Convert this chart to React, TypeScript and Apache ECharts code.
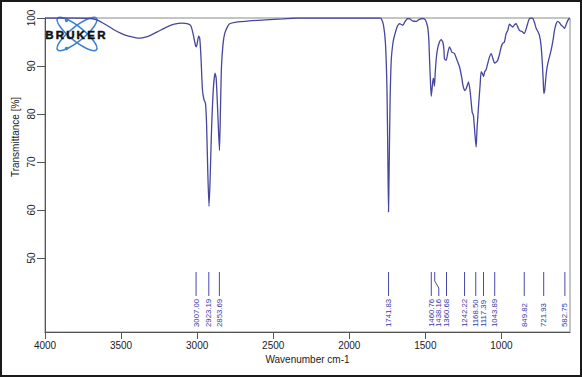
import React, { useEffect, useRef } from "react";
import * as echarts from "echarts";

const wavenumbers = [
  4000, 3800, 3700, 3660, 3600, 3550, 3500, 3450, 3400, 3377, 3340, 3300, 3250, 3200, 3150, 3100,
  3060, 3040, 3025, 3010, 3005, 2998, 2990, 2983, 2975, 2965, 2955, 2945, 2938, 2930, 2922, 2915,
  2905, 2893, 2882, 2875, 2868, 2860, 2853, 2846, 2840, 2830, 2819, 2800, 2786, 2750, 2655, 2550,
  2438, 2350, 2000, 1800, 1790, 1775, 1762, 1752, 1746, 1742, 1738, 1732, 1724, 1712, 1702, 1685,
  1669, 1660, 1647, 1635, 1615, 1600, 1585, 1560, 1540, 1516, 1500, 1490, 1483, 1477, 1472, 1466,
  1461, 1455, 1450, 1446, 1440, 1435, 1429, 1420, 1407, 1396, 1385, 1378, 1374, 1363, 1352, 1341,
  1333, 1326, 1308, 1295, 1275, 1260, 1253, 1242, 1231, 1216, 1205, 1192, 1184, 1178, 1172, 1166,
  1160, 1149, 1140, 1133, 1122, 1117, 1110, 1100, 1090, 1078, 1067, 1055, 1045, 1035, 1024, 1012,
  1001, 991, 980, 969, 958, 947, 936, 925, 914, 903, 892, 881, 865, 849, 835, 822,
  815, 800, 793, 782, 771, 760, 750, 740, 732, 725, 721, 715, 705, 695, 673, 660,
  651, 640, 629, 618, 607, 595, 585, 575, 563, 552,
];

const transmittance = [
  100, 100, 99.9, 99.6, 98.6, 97.6, 96.8, 96.2, 95.85, 95.8, 96.0, 96.5, 97.3, 98.1, 98.7, 98.95,
  98.8, 98.3, 96.5, 94.2, 94.0, 95.0, 96.2, 95.8, 92, 85, 83, 82.2, 78, 68, 60.8, 66,
  77, 85.5, 88.5, 87.5, 83, 77, 72.4, 82, 89.8, 94.5, 96.75, 98.2, 98.8, 99.1, 99.4, 99.6,
  99.8, 100, 100, 100, 99.9, 98.5, 94.7, 85, 70, 59.6, 68, 82, 91.2, 95, 96.4, 98.2,
  98.8, 98.7, 98.5, 99.2, 99.9, 99.8, 99.4, 99.3, 99.7, 99.9, 99.6, 98.8, 97.8, 95.5, 91.2, 86.5,
  83.7, 85.5, 87.0, 87.4, 85.8, 88.5, 91.2, 93.5, 95.0, 95.5, 95.0, 93.5, 91.5, 91.2, 92.8, 94.0,
  93.5, 92.9, 92.6, 91.5, 89.8, 87.5, 86.0, 84.9, 85.3, 86.7, 84.6, 80.4, 79.7, 77.5, 75, 73.1,
  77, 82.2, 86, 88.8, 88.2, 87.8, 88.8, 89.3, 90.5, 91.9, 92.6, 91.5, 90.6, 90.8, 91.2, 92.5,
  94.0, 94.7, 95.0, 96.75, 97.4, 98.7, 98.4, 98.1, 98.6, 98.8, 98.1, 97.4, 97.2, 96.75, 98.0, 99.4,
  99.9, 100, 99.9, 99.0, 97.8, 97.2, 96.4, 94.5, 91.2, 87, 84.3, 85, 88.5, 90.5, 93.3, 95.5,
  97.4, 98.8, 99.3, 99.0, 98.5, 98.2, 97.8, 98.6, 99.5, 100,
];

const peakWavenumbers = [
  3007.0, 2923.19, 2853.69, 1741.83, 1460.76, 1438.16, 1360.68, 1242.22, 1168.5, 1117.39, 1043.89,
  849.82, 721.93, 582.75,
];

const xTickValues = [4000, 3500, 3000, 2500, 2000, 1500, 1000];
const yTickValues = [50, 60, 70, 80, 90, 100];
const logoLetters = ["B", "R", "U", "K", "E", "R"];

const FONT = "'Liberation Sans', Arial, Helvetica, sans-serif";
const LINE_COLOR = "#46469e";
const PEAK_COLOR = "#4848aa";
const LOGO_BLUE = "#3b82d0";

export default function App() {
  const ref = useRef<HTMLDivElement>(null);

  useEffect(() => {
    if (!ref.current) return;
    const chart = echarts.init(ref.current, null, { renderer: "svg" });

    const spectrum = wavenumbers.map((w, i) => [w, transmittance[i]]);
    const peaks = peakWavenumbers.map((w) => [w]);

    const renderPeak = (params: any, api: any) => {
      const idx = params.dataIndex;
      const xs = peakWavenumbers.map((w) => api.coord([w, 100])[0]);
      const minGap = 7.5;
      const labelXs: number[] = [];
      xs.forEach((x, i) => {
        let lx = x;
        if (i > 0 && lx - labelXs[i - 1] < minGap) lx = labelXs[i - 1] + minGap;
        labelXs.push(lx);
      });
      const w = peakWavenumbers[idx];
      const x = xs[idx];
      const lx = labelXs[idx];
      const bottom = api.coord([w, 34.6])[1];
      const top = bottom - 60;
      const lineBottom = bottom - 36;
      const pts =
        Math.abs(lx - x) < 0.5
          ? [
              [x, top],
              [x, lineBottom],
            ]
          : [
              [x, top],
              [x, top + 9],
              [lx, top + 16],
              [lx, lineBottom],
            ];
      return {
        type: "group",
        children: [
          {
            type: "polyline",
            shape: { points: pts },
            style: { stroke: PEAK_COLOR, lineWidth: 1, fill: "none" },
          },
          {
            type: "text",
            x: lx,
            y: bottom - 5,
            rotation: Math.PI / 2,
            style: {
              text: w.toFixed(2),
              fontSize: 7.8,
              fontFamily: FONT,
              fill: "#3535a4",
              align: "left",
              verticalAlign: "middle",
            },
          },
        ],
      };
    };

    const logoChildren: any[] = [
      {
        type: "ellipse",
        x: 77,
        y: 34,
        rotation: 0.68,
        shape: { cx: 0, cy: 0, rx: 25, ry: 7 },
        style: { stroke: LOGO_BLUE, lineWidth: 1.5, fill: "none" },
      },
      {
        type: "ellipse",
        x: 77,
        y: 34,
        rotation: -0.68,
        shape: { cx: 0, cy: 0, rx: 25, ry: 7 },
        style: { stroke: LOGO_BLUE, lineWidth: 1.5, fill: "none" },
      },
      {
        type: "circle",
        shape: { cx: 66.5, cy: 20.5, r: 1.7 },
        style: { fill: LOGO_BLUE },
      },
      {
        type: "circle",
        shape: { cx: 66.5, cy: 48.5, r: 1.7 },
        style: { fill: LOGO_BLUE },
      },
    ];
    logoLetters.forEach((ch, i) => {
      logoChildren.push({
        type: "text",
        x: 49.5 + i * 10.4,
        y: 34.5,
        style: {
          text: ch,
          fontSize: 11.5,
          fontWeight: "bold",
          fontFamily: FONT,
          fill: "#111",
          stroke: "#111",
          lineWidth: 0.5,
          align: "center",
          verticalAlign: "middle",
        },
      });
    });

    chart.setOption({
      animation: false,
      backgroundColor: "#ffffff",
      grid: {
        left: 45,
        top: 18,
        width: 525,
        height: 314,
        show: true,
        borderColor: "#8a8a8a",
        borderWidth: 1,
        backgroundColor: "transparent",
      },
      xAxis: {
        type: "value",
        inverse: true,
        min: 549,
        max: 4000,
        splitLine: { show: false },
        axisLine: { show: true, lineStyle: { color: "#555", width: 1 } },
        axisTick: {
          show: true,
          length: 7,
          customValues: xTickValues,
          lineStyle: { color: "#555" },
        },
        axisLabel: {
          customValues: xTickValues,
          formatter: (v: number) => String(v),
          fontSize: 10,
          fontFamily: FONT,
          color: "#222",
          margin: 8,
        },
        name: "Wavenumber cm-1",
        nameLocation: "middle",
        nameGap: 20,
        nameTextStyle: { fontSize: 10, fontFamily: FONT, color: "#222" },
      },
      yAxis: {
        type: "value",
        min: 34.6,
        max: 100,
        splitLine: { show: false },
        axisLine: { show: true, lineStyle: { color: "#555", width: 1 } },
        axisTick: {
          show: true,
          length: 8,
          customValues: yTickValues,
          lineStyle: { color: "#555" },
        },
        axisLabel: {
          customValues: yTickValues,
          formatter: (v: number) => String(v),
          rotate: 90,
          fontSize: 10,
          fontFamily: FONT,
          color: "#222",
          margin: 9,
        },
      },
      graphic: [
        {
          type: "rect",
          shape: { x: 1, y: 1, width: 580, height: 375 },
          style: { stroke: "#1a1a1a", lineWidth: 2, fill: "none" },
          silent: true,
          z: 100,
        },
        {
          type: "text",
          x: 15,
          y: 137,
          rotation: Math.PI / 2,
          style: {
            text: "Transmittance [%]",
            fontSize: 10,
            fontFamily: FONT,
            fill: "#222",
            align: "center",
            verticalAlign: "middle",
          },
        },
        { type: "group", children: logoChildren, z: 50 },
      ],
      series: [
        {
          type: "line",
          data: spectrum,
          showSymbol: false,
          smooth: 0.2,
          clip: true,
          lineStyle: { color: LINE_COLOR, width: 1.3 },
          z: 3,
        },
        {
          type: "custom",
          data: peaks,
          renderItem: renderPeak,
          clip: false,
          z: 4,
        },
      ],
    });

    return () => chart.dispose();
  }, []);

  return (
    <div
      ref={ref}
      style={{ position: "absolute", left: 0, top: 0, width: 582, height: 377 }}
    />
  );
}
